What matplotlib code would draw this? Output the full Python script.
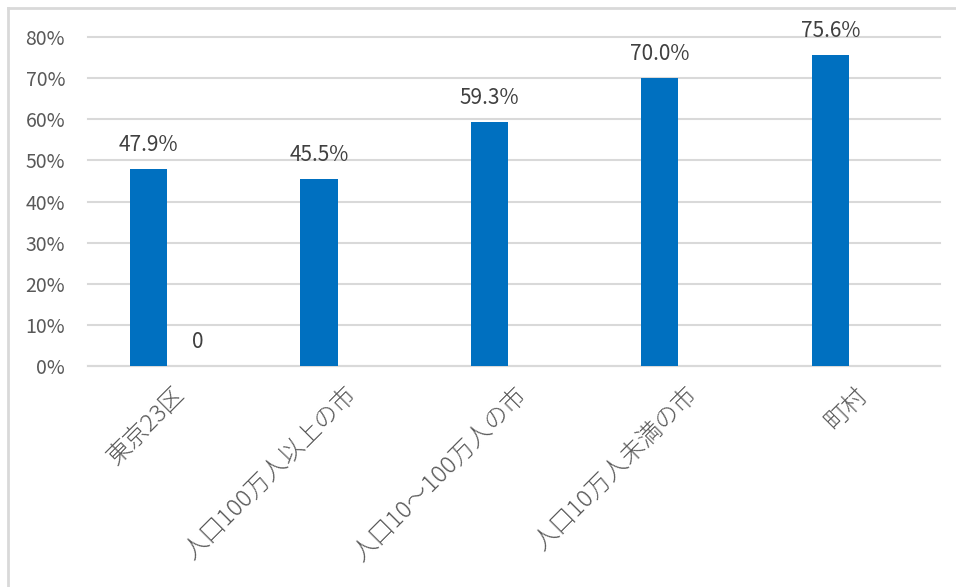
import matplotlib
matplotlib.use("Agg")
import matplotlib.pyplot as plt
from matplotlib.lines import Line2D
import matplotlib.transforms as mtransforms
import numpy as np

plt.rcParams['font.family'] = ['Noto Sans CJK JP', 'DejaVu Sans']

categories = ["東京23区", "人口100万人以上の市", "人口10～100万人の市", "人口10万人未満の市", "町村"]
values = [47.9, 45.5, 59.3, 70.0, 75.6]
second_values = [0, None, None, None, None]
yticks = [0, 10, 20, 30, 40, 50, 60, 70, 80]

W, H = 956, 587
fig = plt.figure(figsize=(W / 100, H / 100), dpi=100)
ax = fig.add_axes([88 / W, 221 / H, (940 - 88) / W, (366 - 37) / H])

x = np.arange(len(categories))
bw = 0.218
off = 0.144
ax.bar(x - off, values, width=bw, color="#0070C0", zorder=3)
for xi, v in zip(x, values):
    ax.annotate(f"{v:.1f}%", (xi - off, v), xytext=(0, 13), textcoords="offset points",
                ha="center", va="baseline", fontsize=15, color="#404040")
for xi, v in zip(x, second_values):
    if v is not None:
        ax.bar(xi + off, v, width=bw, color="#ED7D31", zorder=3, linewidth=0)
        ax.annotate(f"{v}", (xi + off, v), xytext=(0, 13), textcoords="offset points",
                    ha="center", va="baseline", fontsize=15, color="#404040")

ax.set_xlim(-0.5, len(categories) - 0.5)
ax.set_ylim(0, 80)
ax.set_yticks(yticks)
ax.set_yticklabels([f"{t}%" for t in yticks], fontsize=14, color="#595959")
ax.set_xticks(x)
ax.set_xticklabels(categories, rotation=45, ha="right", va="top",
                   rotation_mode="anchor", fontsize=17.5, color="#595959",
                   fontweight="light")
shift = mtransforms.ScaledTranslation(-3 / 100, 0, fig.dpi_scale_trans)
for lbl in ax.get_xticklabels():
    lbl.set_transform(lbl.get_transform() + shift)
ax.tick_params(axis="both", length=0)
ax.tick_params(axis="y", pad=16.5)
ax.tick_params(axis="x", pad=12)
ax.grid(axis="y", color="#D9D9D9", linewidth=1.5, zorder=0)
for gl in ax.get_ygridlines():
    gl.set_clip_on(False)
for s in ["top", "right", "left"]:
    ax.spines[s].set_visible(False)
ax.spines["bottom"].set_color("#D9D9D9")
ax.spines["bottom"].set_linewidth(1.5)

# outer chart border (top and left visible)
fig.add_artist(Line2D([7.5 / W, 7.5 / W], [0, 1 - 7.5 / H], transform=fig.transFigure,
                      color="#D9D9D9", linewidth=2))
fig.add_artist(Line2D([7.5 / W, 1], [1 - 7.5 / H, 1 - 7.5 / H], transform=fig.transFigure,
                      color="#D9D9D9", linewidth=2))

fig.savefig("out.png", dpi=100, facecolor="white")
